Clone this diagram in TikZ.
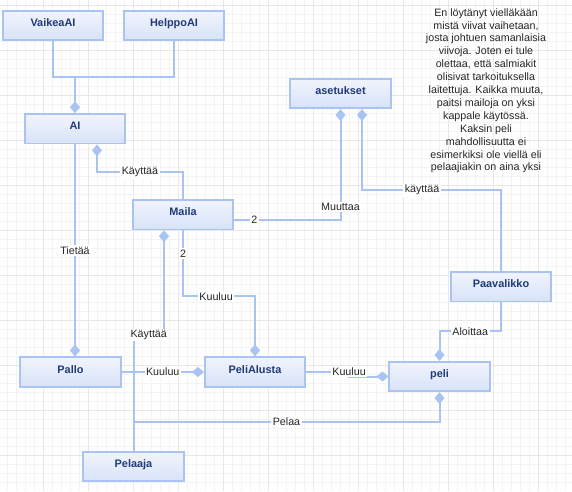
\documentclass[tikz,border=0pt]{standalone}
\usepackage{fontspec}
\setmainfont{Liberation Sans}
\usetikzlibrary{arrows.meta}
\definecolor{lineBlue}{HTML}{A9C4F2}
\definecolor{boxTop}{HTML}{F1F4FC}
\definecolor{boxBottom}{HTML}{D8E3F8}
\definecolor{boxText}{HTML}{1F3B77}
\definecolor{gridMinor}{HTML}{F4F4F4}
\definecolor{gridMajor}{HTML}{E8E8E8}
\begin{document}
\begin{tikzpicture}[x=1pt,y=-1pt]
	\pgfmathsetmacro{\boxW}{100.5}
	\pgfmathsetmacro{\boxH}{29.5}
	\tikzstyle{cls}=[draw=lineBlue, line width=1.6pt, top color=boxTop, bottom color=boxBottom, minimum width=\boxW pt, minimum height=\boxH pt, inner sep=0pt, text height=8pt, text depth=6pt, text=boxText, font=\fontsize{10.9}{12}\selectfont\bfseries]
	\tikzstyle{lbl}=[fill=white, inner sep=1.5pt, text=black!85, font=\fontsize{10.7}{12}\selectfont]
	\tikzstyle{note}=[align=center, inner sep=0pt, text=black!85, font=\fontsize{10.7}{12.9}\selectfont]
	\tikzstyle{conn}=[draw=lineBlue, line width=2pt]
	\tikzstyle{toDia}=[conn, -{Diamond[length=12pt,width=10pt]}]
	\tikzstyle{fromDia}=[conn, {Diamond[length=12pt,width=10pt]}-]
	
	\useasboundingbox (0,0) rectangle (572,491);
	\fill[white] (0,0) rectangle (572,491);
	\foreach \gx in {7,16,...,570} \draw[gridMinor, line width=0.7pt] (\gx,0) -- (\gx,491);
	\foreach \gy in {5,14,...,490} \draw[gridMinor, line width=0.7pt] (0,\gy) -- (572,\gy);
	\foreach \gx in {43,88,...,570} \draw[gridMajor, line width=0.7pt] (\gx,0) -- (\gx,491);
	\foreach \gy in {5,50,...,490} \draw[gridMajor, line width=0.7pt] (0,\gy) -- (572,\gy);
	
	\node[cls] (VaikeaAI) at (53, 25.5)	{VaikeaAI};
	\node[cls] (HelppoAI) at (174, 25.5)	{HelppoAI};
	\node[cls] (AI) at (75, 128.8)	{AI};
	\node[cls] (Maila) at (183, 214.7)	{Maila};
	\node[cls] (asetukset) at (340.5, 93.5)	{asetukset};
	\node[cls] (Paavalikko) at (501, 286.8)	{Paavalikko};
	\node[cls] (Pallo) at (70.5, 372)	{Pallo};
	\node[cls] (PeliAlusta) at (255, 372)	{PeliAlusta};
	\node[cls] (peli) at (439.5, 376.5)	{peli};
	\node[cls] (Pelaaja) at (133.5, 466.5)	{Pelaaja};
	
	\node[note] (huom) at (486, 90.8) {En löytänyt vielläkään\\mistä viivat vaihetaan,\\josta johtuen samanlaisia\\viivoja. Joten ei tule\\olettaa, että salmiakit\\olisivat tarkoituksella\\laitettuja. Kaikka muuta,\\paitsi mailoja on yksi\\kappale käytössä.\\Kaksin peli\\mahdollisuutta ei\\esimerkiksi ole viellä eli\\pelaajiakin on aina yksi};
	
	\draw[conn] (VaikeaAI.south) -- ++(0,36) -| (HelppoAI.south);
	\draw[toDia] ([yshift=36pt]AI.north) -- (AI.north);
	
	\draw[fromDia] ([xshift=22pt]AI.south) -- ++(0,28) -| node[lbl,pos=0.25] {Käyttää} (Maila.north);
	\draw[toDia] (AI.south) -- node[lbl] {Tietää} (AI.south |- Pallo.north);
	
	\draw[toDia] ([yshift=-5.5pt]Maila.east) -| node[lbl,pos=0.095] {2} node[lbl,pos=0.56] {Muuttaa} (asetukset.south);
	\draw[fromDia] ([xshift=21.5pt]asetukset.south) -- ++(0,81) -| node[lbl,pos=0.216] {käyttää} (Paavalikko.north);
	
	\draw[toDia] (Maila.south) -- node[lbl,pos=0.35] {2} ++(0,66) -| node[lbl,pos=0.23] {Kuuluu} (PeliAlusta.north);
	\draw[toDia] (Pelaaja.north) -- ++(0,-116) -| node[lbl,pos=0.25] {Käyttää} ([xshift=-19pt]Maila.south);
	
	\draw[toDia] (Pallo.east) -- node[lbl] {Kuuluu} (PeliAlusta.west);
	\draw[toDia] (PeliAlusta.east) -- ++(43,0) |- node[lbl,pos=0] {Kuuluu} (peli.west);
	\draw[toDia] ([yshift=29pt]Pelaaja.north) -| node[lbl,pos=0.25] {Pelaa} (peli.south);
	\draw[toDia] (Paavalikko.south) -- ++(0,29) -| node[lbl,pos=0.25] {Aloittaa} (peli.north);
\end{tikzpicture}
\end{document}
